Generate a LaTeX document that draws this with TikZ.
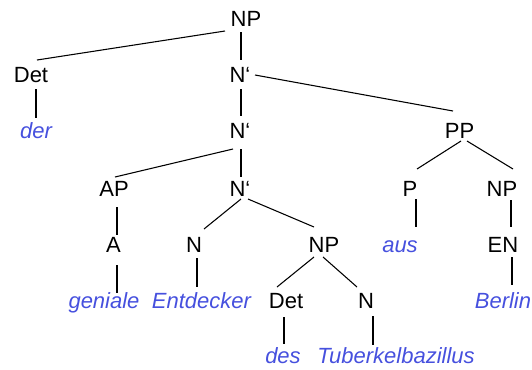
\documentclass[tikz,border=0pt]{standalone}
\usepackage{fontspec}
\setmainfont{Liberation Sans}
\usetikzlibrary{calc}
\definecolor{wordblue}{RGB}{70,80,222}
\tikzset{
  cat/.style={anchor=base, inner sep=0pt, font=\fontsize{16.5}{19}\selectfont},
  word/.style={cat, text=wordblue, font=\fontsize{16.5}{19}\selectfont\itshape},
  branch/.style={draw=black, line width=0.8pt}
}
\begin{document}
\begin{tikzpicture}[x=0.75pt, y=-0.75pt]
\useasboundingbox (0,0) rectangle (532,369);

% category labels
\node[cat] (NP0)  at (246,26)    {NP};
\node[cat] (Det1) at (31,82)     {Det};
\node[cat] (Nb1)  at (240,82)    {N‘};
\node[cat] (Nb2)  at (240,138)   {N‘};
\node[cat] (PP)   at (459.5,138) {PP};
\node[cat] (AP)   at (114,196)   {AP};
\node[cat] (Nb3)  at (240,196)   {N‘};
\node[cat] (P)    at (410,196)   {P};
\node[cat] (NPr)  at (502,196)   {NP};
\node[cat] (A)    at (113.5,252) {A};
\node[cat] (N1)   at (194,252)   {N};
\node[cat] (NPm)  at (324,252)   {NP};
\node[cat] (EN)   at (503,252)   {EN};
\node[cat] (Det2) at (286,308)   {Det};
\node[cat] (N2)   at (366,308)   {N};

% words
\node[word] (der)  at (36,138)    {der};
\node[word] (aus)  at (400,252)   {aus};
\node[word] (gen)  at (104,308)   {geniale};
\node[word] (ent)  at (201.5,308) {Entdecker};
\node[word] (ber)  at (503,308)   {Berlin};
\node[word] (des)  at (283,363)   {des};
\node[word] (tub)  at (396,363)   {Tuberkelbazillus};

% branches
\draw[branch] ($(NP0.base)+(-21,5)$) -- ($(Det1.base)+(6,-22)$);
\draw[branch] ($(NP0.base)+(-5,6)$)  -- ($(Nb1.base)+(1,-22)$);
\draw[branch] ($(Det1.base)+(5,7)$)  -- ($(der.base)+(0,-20)$);
\draw[branch] ($(Nb1.base)+(1,7)$)   -- ($(Nb2.base)+(1,-22)$);
\draw[branch] ($(Nb1.base)+(15,-7)$) -- ($(PP.base)+(-6.5,-27)$);
\draw[branch] ($(Nb2.base)+(-7,11)$) -- ($(AP.base)+(1,-19)$);
\draw[branch] ($(Nb2.base)+(1,11)$)  -- ($(Nb3.base)+(1,-19)$);
\draw[branch] ($(PP.base)+(1.5,3)$)  -- ($(P.base)+(7,-27)$);
\draw[branch] ($(PP.base)+(7.5,3)$)  -- ($(NPr.base)+(11,-27)$);
\draw[branch] ($(AP.base)+(3,11)$)   -- ($(A.base)+(3.5,-17)$);
\draw[branch] ($(Nb3.base)+(1,3)$)   -- ($(N1.base)+(10,-23)$);
\draw[branch] ($(Nb3.base)+(8,3)$)   -- ($(NPm.base)+(-10,-25)$);
\draw[branch] ($(P.base)+(6,3)$)     -- ($(aus.base)+(16,-25)$);
\draw[branch] ($(NPr.base)+(9,4)$)   -- ($(EN.base)+(8,-25)$);
\draw[branch] ($(A.base)+(3.5,13)$)  -- ($(gen.base)+(13,-15)$);
\draw[branch] ($(N1.base)+(3,6)$)    -- ($(ent.base)+(-4.5,-21)$);
\draw[branch] ($(NPm.base)+(-10,5)$) -- ($(Det2.base)+(-9,-21)$);
\draw[branch] ($(NPm.base)+(-1,5)$)  -- ($(N2.base)+(-9,-21)$);
\draw[branch] ($(EN.base)+(9,5)$)    -- ($(ber.base)+(9,-23)$);
\draw[branch] ($(Det2.base)+(-2,9)$) -- ($(des.base)+(1,-19)$);
\draw[branch] ($(N2.base)+(7,8)$)    -- ($(tub.base)+(-23,-18)$);
\end{tikzpicture}
\end{document}
